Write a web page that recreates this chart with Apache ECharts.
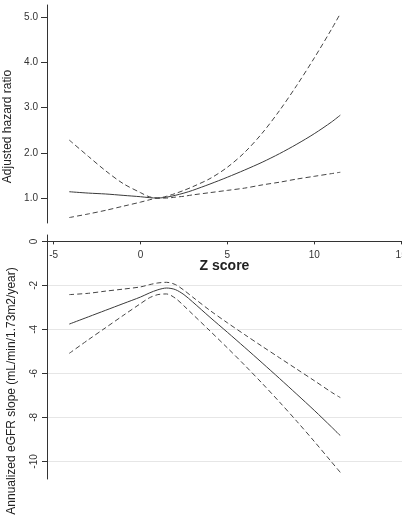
<!DOCTYPE html>
<html><head><meta charset="utf-8">
<script src="https://cdn.jsdelivr.net/npm/echarts@6/dist/echarts.min.js"></script>
<style>html,body{margin:0;padding:0;background:#fff}#c{width:402px;height:524px}</style>
</head><body><div id="c"></div>
<script>
// Z score grid
const zScore = [-4.1, -3, -2, -1, 0, 0.5, 1, 1.5, 2, 2.5, 3, 4, 5, 6, 7, 8, 9, 10, 11, 11.5];
// Top panel: adjusted hazard ratio
const hrEstimate = [1.14, 1.11, 1.09, 1.06, 1.03, 1.01, 1.0, 1.02, 1.06, 1.11, 1.17, 1.31, 1.46, 1.62, 1.79, 1.98, 2.19, 2.42, 2.68, 2.83];
const hrUpper = [2.28, 1.92, 1.6, 1.32, 1.12, 1.03, 1.0, 1.04, 1.1, 1.17, 1.25, 1.43, 1.68, 2.01, 2.43, 2.93, 3.49, 4.09, 4.73, 5.07];
const hrLower = [0.57, 0.65, 0.73, 0.82, 0.91, 0.96, 1.0, 1.0, 1.02, 1.04, 1.07, 1.12, 1.17, 1.22, 1.29, 1.35, 1.42, 1.48, 1.54, 1.57];
// Bottom panel: annualized eGFR slope
const slopeEstimate = [-3.76, -3.43, -3.13, -2.83, -2.53, -2.35, -2.2, -2.12, -2.19, -2.42, -2.75, -3.45, -4.13, -4.82, -5.52, -6.23, -6.95, -7.68, -8.44, -8.83];
const slopeUpper = [-2.42, -2.36, -2.26, -2.17, -2.07, -1.97, -1.89, -1.86, -1.96, -2.22, -2.53, -3.14, -3.7, -4.24, -4.77, -5.29, -5.81, -6.33, -6.86, -7.1];
const slopeLower = [-5.09, -4.47, -3.92, -3.37, -2.83, -2.57, -2.42, -2.39, -2.58, -2.93, -3.31, -4.07, -4.84, -5.63, -6.45, -7.3, -8.18, -9.09, -10.03, -10.5];
// Tick labels
const xTicks = [-5, 0, 5, 10, 15];
const hrTicks = [1, 2, 3, 4, 5];
const slopeTicks = [-10, -8, -6, -4, -2, 0];

const pairs = ys => zScore.map((z, i) => [z, ys[i]]);
const txt = '#333';
const font = 'Liberation Sans, Arial, sans-serif';
const solid = {color: '#3a3a3a', width: 1};
const dashed = {color: '#444', width: 1, type: [5, 3]};
const mk = (name, x, y, data, ls) => ({name, type: 'line', xAxisIndex: x, yAxisIndex: y, data: pairs(data), showSymbol: false, symbol: 'none', lineStyle: ls, smooth: 0.3, silent: true, animation: false});

const chart = echarts.init(document.getElementById('c'), null, {renderer: 'canvas'});
chart.setOption({
  animation: false,
  textStyle: {fontFamily: font},
  grid: [
    {left: 47, top: 5, width: 355, height: 218, containLabel: false, outerBoundsMode: 'none'},
    {left: 47, top: 235, width: 355, height: 244, containLabel: false, outerBoundsMode: 'none'}
  ],
  xAxis: [
    {gridIndex: 0, type: 'value', min: -5.38, max: 15.05, position: 'bottom',
     axisLine: {show: false}, axisTick: {show: false}, axisLabel: {show: false}, splitLine: {show: false},
     name: 'Z score', nameLocation: 'middle', nameGap: 36,
     nameTextStyle: {fontSize: 14, fontWeight: 'bold', color: '#222', fontFamily: font}},
    {gridIndex: 1, type: 'value', min: -5.38, max: 15.05, position: 'top',
     axisLine: {show: true, onZero: true, lineStyle: {color: '#333', width: 1}},
     axisTick: {show: true, inside: true, length: 3, customValues: xTicks, lineStyle: {color: '#333'}},
     axisLabel: {inside: true, margin: 15, customValues: xTicks, fontSize: 10, color: txt, fontFamily: font},
     splitLine: {show: false}}
  ],
  yAxis: [
    {gridIndex: 0, type: 'value', min: 0.45, max: 5.26,
     axisLine: {show: true, onZero: false, lineStyle: {color: '#333', width: 1}},
     axisTick: {show: true, length: 6, customValues: hrTicks, lineStyle: {color: '#333'}},
     axisLabel: {customValues: hrTicks, formatter: v => v.toFixed(1), fontSize: 10, color: txt, margin: 9, fontFamily: font},
     splitLine: {show: false},
     name: 'Adjusted hazard ratio', nameLocation: 'middle', nameGap: 28,
     nameTextStyle: {fontSize: 12, color: '#222', padding: [0, 25, 0, 0], fontFamily: font}},
    {gridIndex: 1, type: 'value', min: -10.8, max: 0.29,
     axisLine: {show: true, onZero: false, lineStyle: {color: '#333', width: 1}},
     axisTick: {show: true, length: 5, customValues: slopeTicks, lineStyle: {color: '#333'}},
     axisLabel: {customValues: slopeTicks, rotate: 90, fontSize: 10, color: txt, margin: 8, fontFamily: font},
     splitLine: {show: true, lineStyle: {color: '#e6e6e6', width: 1}},
     name: 'Annualized eGFR slope (mL/min/1.73m2/year)', nameLocation: 'middle', nameGap: 29,
     nameTextStyle: {fontSize: 12, color: '#222', padding: [0, 68, 0, 0], fontFamily: font}}
  ],
  series: [
    mk('HR', 0, 0, hrEstimate, solid),
    mk('HR upper', 0, 0, hrUpper, dashed),
    mk('HR lower', 0, 0, hrLower, dashed),
    mk('Slope', 1, 1, slopeEstimate, solid),
    mk('Slope upper', 1, 1, slopeUpper, dashed),
    mk('Slope lower', 1, 1, slopeLower, dashed)
  ]
});
</script></body></html>
